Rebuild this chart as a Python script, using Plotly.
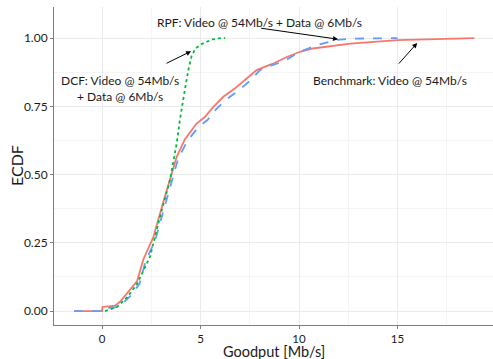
import plotly.graph_objects as go

# Benchmark: Video @ 54Mb/s
bench_x = [-1.42, 0.0, 0.02, 0.66, 0.9, 1.42, 1.78, 2.1, 2.6, 3.11, 3.45, 3.79, 4.21, 4.8, 5.23, 5.65, 6.16, 6.75, 7.34, 7.85, 8.44, 8.7, 9.38, 10.05, 10.7, 11.9, 12.6, 15.0, 17.5, 18.9]
bench_y = [0, 0, 0.015, 0.02, 0.033, 0.077, 0.11, 0.19, 0.27, 0.40, 0.48, 0.565, 0.63, 0.687, 0.712, 0.748, 0.785, 0.816, 0.852, 0.883, 0.90, 0.907, 0.931, 0.95, 0.962, 0.974, 0.98, 0.993, 0.999, 1.0]

# RPF: Video @ 54Mb/s + Data @ 6Mb/s
rpf_x = [-1.42, 0.0, 0.05, 0.8, 1.0, 1.5, 1.9, 2.2, 2.7, 3.2, 3.5, 3.85, 4.3, 4.9, 5.35, 5.8, 6.3, 6.9, 7.5, 8.02, 8.6, 9.2, 10.05, 10.9, 11.9, 12.6, 15.0]
rpf_y = [0, 0, 0.01, 0.015, 0.025, 0.06, 0.10, 0.18, 0.26, 0.39, 0.47, 0.555, 0.62, 0.675, 0.70, 0.74, 0.775, 0.806, 0.843, 0.883, 0.90, 0.914, 0.95, 0.974, 0.993, 0.998, 1.0]

# DCF: Video @ 54Mb/s + Data @ 6Mb/s
dcf_x = [0.15, 0.76, 1.27, 1.78, 2.44, 2.94, 3.45, 3.79, 3.95, 4.1, 4.25, 4.4, 4.55, 4.75, 5.1, 5.6, 6.0, 6.25]
dcf_y = [0, 0.015, 0.05, 0.10, 0.20, 0.345, 0.48, 0.615, 0.70, 0.77, 0.83, 0.89, 0.935, 0.963, 0.98, 0.995, 1.0, 1.0]

x_ticks = [0, 5, 10, 15]
y_ticks = [0, 0.25, 0.5, 0.75, 1.0]
y_ticklabels = ["0.00", "0.25", "0.50", "0.75", "1.00"]

FONT = "Lato"
DARK = "#1a1a1a"
fig = go.Figure()
fig.add_trace(go.Scatter(x=bench_x, y=bench_y, mode="lines",
                         line=dict(color="#F8766D", width=1.8), name="Benchmark"))
fig.add_trace(go.Scatter(x=rpf_x, y=rpf_y, mode="lines",
                         line=dict(color="#619CFF", width=1.8, dash="dash"), name="RPF"))
fig.add_trace(go.Scatter(x=dcf_x, y=dcf_y, mode="lines",
                         line=dict(color="#00BA38", width=1.8, dash="dot"), name="DCF"))

txt = dict(family=FONT, size=12, color=DARK)
fig.add_annotation(x=7.97, y=1.059, text="RPF: Video @ 54Mb/s + Data @ 6Mb/s",
                   showarrow=False, font=txt)
fig.add_annotation(x=0.91, y=0.817, text="DCF: Video @ 54Mb/s<br>+ Data @ 6Mb/s",
                   showarrow=False, font=txt)
fig.add_annotation(x=14.64, y=0.846, text="Benchmark: Video @ 54Mb/s",
                   showarrow=False, font=txt)

arrow = dict(showarrow=True, text="", arrowhead=2, arrowsize=1, arrowwidth=1,
             arrowcolor="black", axref="x", ayref="y", xref="x", yref="y",
             standoff=0, startstandoff=0)
fig.add_annotation(x=11.98, y=0.996, ax=8.0, ay=1.037, **arrow)
fig.add_annotation(x=4.52, y=0.952, ax=3.2, ay=0.905, **arrow)
fig.add_annotation(x=16.0, y=0.982, ax=15.0, ay=0.901, **arrow)

# axis titles
fig.add_annotation(x=0.5, y=0, xref="paper", yref="paper", yshift=-17,
                   yanchor="top", text="Goodput [Mb/s]", showarrow=False, borderpad=0,
                   font=dict(family=FONT, size=14.5, color=DARK))
fig.add_annotation(x=0, y=0.5, xref="paper", yref="paper", xshift=-38,
                   xanchor="center", text="ECDF", textangle=-90, showarrow=False,
                   font=dict(family=FONT, size=16, color=DARK))

fig.update_layout(
    width=493, height=359,
    margin=dict(l=54, r=0, t=7, b=34),
    paper_bgcolor="white", plot_bgcolor="white",
    showlegend=False,
    font=dict(family=FONT, color=DARK),
)
fig.update_xaxes(
    range=[-2.44, 19.85], tickvals=x_ticks, ticktext=[str(v) for v in x_ticks],
    showgrid=True, gridcolor="#ebebeb", gridwidth=1,
    minor=dict(tickvals=[-2.5, 2.5, 7.5, 12.5, 17.5], showgrid=True, gridcolor="#f5f5f5", gridwidth=0.6),
    showline=True, linecolor="#7f7f7f", linewidth=1,
    ticks="outside", ticklen=3, tickcolor="#7f7f7f",
    tickfont=dict(family=FONT, size=11.5, color=DARK),
    automargin=False, zeroline=False,
)
fig.update_yaxes(
    range=[-0.051, 1.114], tickvals=y_ticks, ticktext=y_ticklabels,
    showgrid=True, gridcolor="#ebebeb", gridwidth=1,
    minor=dict(tickvals=[0.125, 0.375, 0.625, 0.875], showgrid=True, gridcolor="#f5f5f5", gridwidth=0.6),
    showline=True, linecolor="#7f7f7f", linewidth=1,
    ticks="outside", ticklen=3, tickcolor="#7f7f7f",
    tickfont=dict(family=FONT, size=12, color=DARK),
    automargin=False, zeroline=False,
)

fig.write_html("out.html", config={"displayModeBar": False},
               post_script="document.body.style.margin='0px';")
